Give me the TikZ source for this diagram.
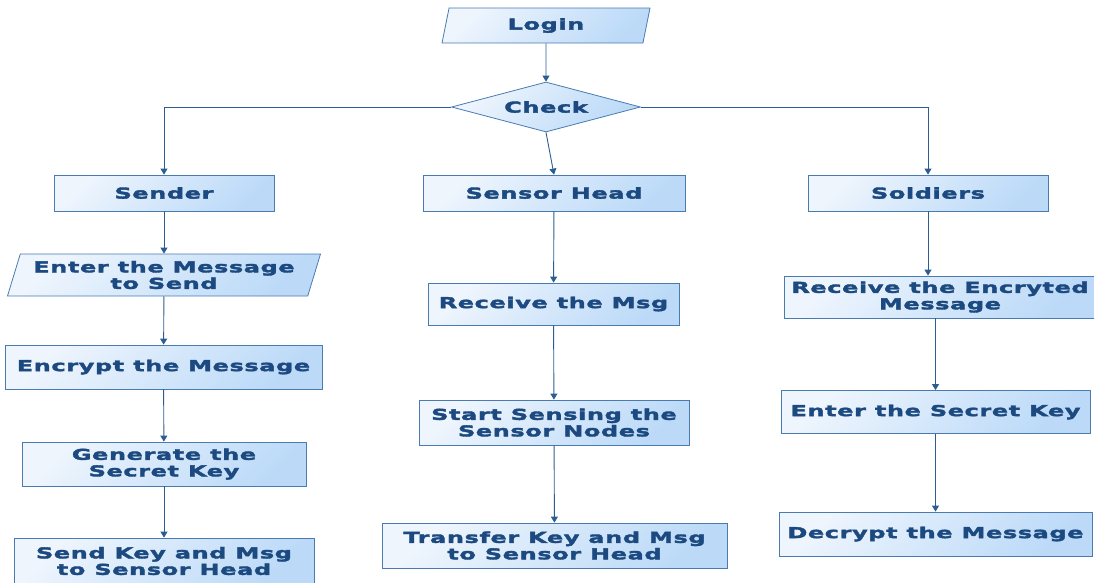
\documentclass[tikz,border=0pt]{standalone}
\usepackage{fontspec}
\newfontfamily\boxfont[FakeStretch=1.6,LetterSpace=4,BoldFeatures={FakeBold=2.5}]{DejaVu Sans}
\usetikzlibrary{shapes.geometric,arrows.meta}
\definecolor{boxline}{HTML}{4A7BB0}
\definecolor{boxlo}{HTML}{EEF5FD}
\definecolor{boxhi}{HTML}{BCDAF8}
\definecolor{txt}{HTML}{1C4A80}
\definecolor{wire}{HTML}{2B5D91}
\begin{document}
\begin{tikzpicture}[x=1pt,y=-1pt,
  box/.style={draw=boxline,line width=0.8pt,top color=boxlo,bottom color=boxhi,shading angle=45,
    text=txt,font=\boxfont\bfseries\fontsize{15}{16.5}\selectfont,align=center,inner sep=1pt,minimum height=36pt},
  para/.style={box,trapezium,trapezium left angle=67,trapezium right angle=113,trapezium stretches body},
  dia/.style={box,diamond,aspect=3.8,inner sep=0pt,minimum width=189pt,minimum height=50pt},
  flow/.style={wire,line width=0.9pt,-{Triangle[length=6pt,width=7pt]}}]
\useasboundingbox (0,0) rectangle (1094,582);
\node[para,minimum width=208pt,minimum height=35pt] (login) at (546,25.5) {Login};
\node[dia] (chk) at (546,107) {Check};
% three roles
\node[box,minimum width=220pt] (send) at (164,193) {Sender};
\node[box,minimum width=262pt] (head) at (554,193) {Sensor Head};
\node[box,minimum width=240pt] (sold) at (928,193) {Soldiers};
% sender column
\node[para,minimum width=313pt,minimum height=42pt] (enter) at (164,275) {Enter the Message\\to Send};
\node[box,minimum width=317pt,minimum height=44pt] (encr) at (163.5,367) {Encrypt the Message};
\node[box,minimum width=284pt,minimum height=44pt] (gen) at (164,464) {Generate the\\Secret Key};
\node[box,minimum width=300pt,minimum height=46pt] (skey) at (164,561) {Send Key and Msg\\to Sensor Head};
% sensor head column
\node[box,minimum width=251pt,minimum height=42pt] (recv) at (553.5,304) {Receive the Msg};
\node[box,minimum width=270pt,minimum height=45pt] (sens) at (554,422.5) {Start Sensing the\\Sensor Nodes};
\node[box,minimum width=345pt,minimum height=45pt] (trans) at (554.5,545.5) {Transfer Key and Msg\\to Sensor Head};
% soldiers column
\node[box,minimum width=312pt,minimum height=42pt] (renc) at (940,297) {Receive the Encryted\\Message};
\node[box,minimum width=309pt,minimum height=43pt] (ekey) at (935.5,412) {Enter the Secret Key};
\node[box,minimum width=313pt,minimum height=44pt] (decr) at (935.5,534) {Decrypt the Message};
% connectors
\draw[flow] (login) -- (chk);
\draw[flow] (chk.west) -| (send.north);
\draw[flow] (chk.south) -- (head.north);
\draw[flow] (chk.east) -| (sold.north);
\draw[flow] (send) -- (enter); \draw[flow] (enter) -- (encr);
\draw[flow] (encr) -- (gen); \draw[flow] (gen) -- (skey);
\draw[flow] (head) -- (recv); \draw[flow] (recv) -- (sens); \draw[flow] (sens) -- (trans);
\draw[flow] (sold.south) -- (sold.south |- renc.north);
\draw[flow] (ekey.north |- renc.south) -- (ekey.north);
\draw[flow] (ekey) -- (decr);
\end{tikzpicture}
\end{document}
